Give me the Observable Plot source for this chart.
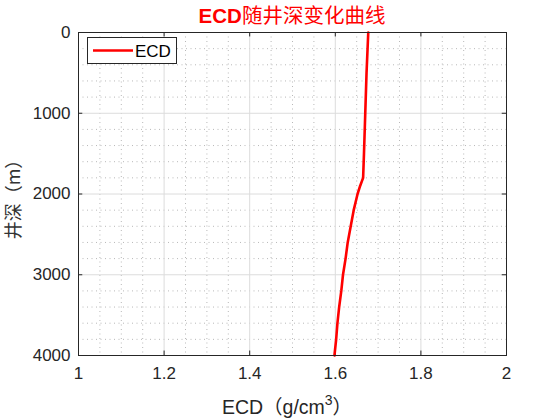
<!DOCTYPE html>
<html><head><meta charset="utf-8">
<script src="https://cdn.jsdelivr.net/npm/d3@7"></script>
<script src="https://cdn.jsdelivr.net/npm/@observablehq/plot@0.6"></script>
<style>
body{margin:0;background:#fff;}
#c{position:relative;width:560px;height:420px;}
</style></head><body><div id="c"></div>
<script>
const depth = [0, 500, 1000, 1500, 1800, 1900, 2000, 2200, 2400, 2600, 2800, 3000, 3200, 3400, 3600, 3800, 4000];
const ecd = [1.677, 1.673, 1.670, 1.667, 1.665, 1.658, 1.652, 1.643, 1.636, 1.629, 1.624, 1.618, 1.614, 1.609, 1.605, 1.602, 1.598];
const xTicks = [1, 1.2, 1.4, 1.6, 1.8, 2];
const yTicks = [0, 1000, 2000, 3000, 4000];
const xMinor = [1.05,1.1,1.15,1.25,1.3,1.35,1.45,1.5,1.55,1.65,1.7,1.75,1.85,1.9,1.95];
const yMinor = [200,400,600,800,1200,1400,1600,1800,2200,2400,2600,2800,3200,3400,3600,3800];
const title = "ECD随井深变化曲线";
const seriesName = "ECD";
const xLabel = "ECD（g/cm";
const yLabel = "井深（m）";

const data = depth.map((d,i)=>({depth:d, ecd:ecd[i]}));
const ink = "#262626";

const plot = Plot.plot({
  width: 560, height: 420,
  marginLeft: 78, marginRight: 54, marginTop: 32, marginBottom: 65,
  style: {fontFamily: "'Liberation Sans', Arial, sans-serif", fontSize: "17px", color: ink, background: "#fff"},
  x: {domain: [1, 2]},
  y: {domain: [0, 4000], reverse: true},
  marks: [
    Plot.ruleX(xMinor, {stroke: "#b8b8b8", strokeDasharray: "1,3.5", strokeWidth: 1}),
    Plot.ruleY(yMinor, {stroke: "#b8b8b8", strokeDasharray: "1,3.5", strokeWidth: 1}),
    Plot.ruleX(xTicks, {stroke: "#dcdcdc", strokeWidth: 1}),
    Plot.ruleY(yTicks, {stroke: "#dcdcdc", strokeWidth: 1}),
    Plot.ruleX(xTicks, {y1: 0, y2: 55, stroke: ink}),
    Plot.ruleX(xTicks, {y1: 4000, y2: 3945, stroke: ink}),
    Plot.ruleY(yTicks, {x1: 1, x2: 1.01, stroke: ink}),
    Plot.ruleY(yTicks, {x1: 2, x2: 1.99, stroke: ink}),
    Plot.line(data, {x: "ecd", y: "depth", stroke: "#ff0000", strokeWidth: 2.6, curve: "linear"}),
    Plot.frame({stroke: ink, strokeWidth: 1}),
    Plot.axisX(xTicks, {tickSize: 0, tickPadding: 11, label: null, fill: ink, tickFormat: d => String(d)}),
    Plot.axisY(yTicks, {tickSize: 0, tickPadding: 8, label: null, fill: ink, tickFormat: d => String(d)}),
  ]
});
document.getElementById("c").appendChild(plot);

const svg = d3.select(plot);
svg.selectAll('g[aria-label*="tick label"]').attr("font-size", null).style("font-size", "17px");
svg.selectAll('g[aria-label*="tick label"] text').style("font-size", "17px");
// title
const t = svg.append("text").attr("x", 292).attr("y", 23).attr("text-anchor", "middle")
  .attr("fill", "#ff0000").style("font-size", "20.5px");
t.append("tspan").text(title.slice(0,3)).style("font-weight", "bold").style("font-family", "'Liberation Sans', Arial, sans-serif");
t.append("tspan").text(title.slice(3)).style("font-family", "'Noto Sans CJK SC', sans-serif");
// x label
const xl = svg.append("text").attr("x", 287).attr("y", 414).attr("text-anchor", "middle")
  .attr("fill", ink).style("font-size", "19.5px").style("font-family", "'Liberation Sans', 'Noto Sans CJK SC', sans-serif");
xl.append("tspan").text(xLabel);
xl.append("tspan").text("3").attr("dy", -9).style("font-size", "14px");
xl.append("tspan").text("）").attr("dy", 9);
// y label
svg.append("text").attr("transform", "translate(20,195) rotate(-90)").attr("text-anchor", "middle")
  .attr("fill", "#333").style("font-size", "18px").style("font-family", "'Noto Sans CJK SC', sans-serif").text(yLabel);
// legend
const lg = svg.append("g");
lg.append("rect").attr("x", 87.5).attr("y", 37.5).attr("width", 89).attr("height", 26).attr("fill", "#fff").attr("stroke", ink);
lg.append("line").attr("x1", 93).attr("x2", 133).attr("y1", 50.5).attr("y2", 50.5).attr("stroke", "#ff0000").attr("stroke-width", 2.6);
lg.append("text").attr("x", 135).attr("y", 57).attr("text-anchor", "start").attr("fill", "#000").style("font-size", "17px")
  .style("font-family", "'Liberation Sans', Arial, sans-serif").text(seriesName);
</script></body></html>
